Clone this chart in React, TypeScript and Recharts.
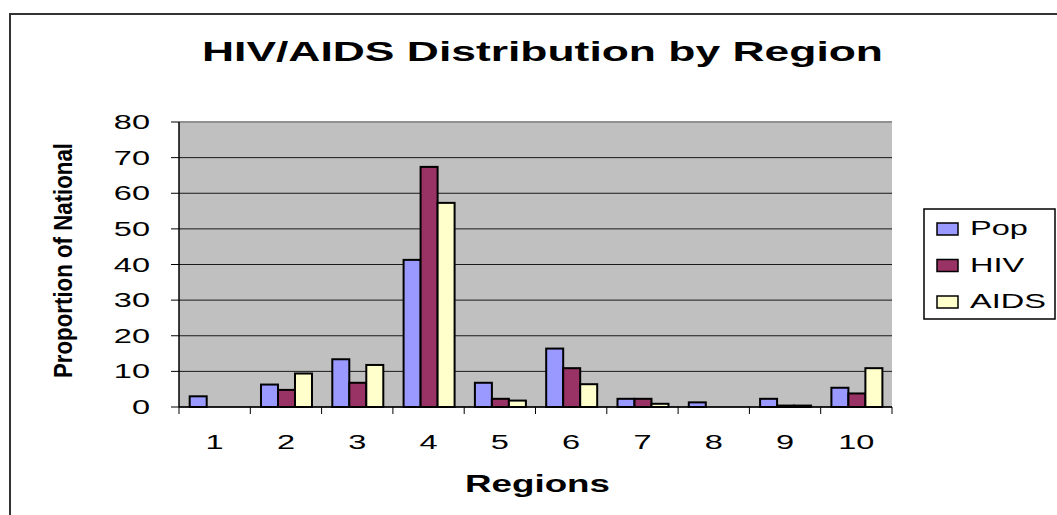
import React from "react";
import {
  BarChart,
  Bar,
  XAxis,
  YAxis,
  CartesianGrid,
  ReferenceLine,
  Legend,
} from "recharts";

const REGIONS = ["1", "2", "3", "4", "5", "6", "7", "8", "9", "10"];
const POP = [3, 6.3, 13.4, 41.3, 6.8, 16.4, 2.3, 1.3, 2.3, 5.4];
const HIV = [0, 4.8, 6.8, 67.4, 2.3, 10.9, 2.3, 0, 0.4, 3.8];
const AIDS = [0, 9.4, 11.8, 57.3, 1.8, 6.4, 0.9, 0, 0.4, 10.9];
const Y_TICKS = [0, 10, 20, 30, 40, 50, 60, 70, 80];

const SERIES = [
  { key: "pop", name: "Pop", color: "#9999FF" },
  { key: "hiv", name: "HIV", color: "#993366" },
  { key: "aids", name: "AIDS", color: "#FFFFCC" },
];

const data = REGIONS.map((region, i) => ({
  region,
  pop: POP[i],
  hiv: HIV[i],
  aids: AIDS[i],
}));

const FONT = "'Liberation Sans', Arial, sans-serif";
const W = 1057;
const H = 515;
const MARGIN = { top: 122, right: 165, bottom: 78, left: 100 };
const BAND = (W - MARGIN.left - 79 - MARGIN.right) / REGIONS.length;

// x ticks: label at the centre, tick mark at the category boundary
const XTick = (props: any) => {
  const { x, y, payload, index } = props;
  const half = payload && payload.offset ? payload.offset : BAND / 2;
  const isLast = index === REGIONS.length - 1;
  return (
    <g>
      <line x1={x - half} x2={x - half} y1={y - 7} y2={y} stroke="#000" />
      {isLast && (
        <line x1={x + half} x2={x + half} y1={y - 7} y2={y} stroke="#000" />
      )}
      <text
        transform={`translate(${x},${y + 35}) scale(1.55,1)`}
        textAnchor="middle"
        fontSize={21}
        fontFamily={FONT}
        fill="#000"
      >
        {payload.value}
      </text>
    </g>
  );
};

const YTick = (props: any) => {
  const { x, y, payload } = props;
  return (
    <text
      transform={`translate(${x},${y + 7}) scale(1.55,1)`}
      textAnchor="end"
      fontSize={21}
      fontFamily={FONT}
      fill="#000"
    >
      {payload.value}
    </text>
  );
};

// bar with a black outline
const OutlinedBar = (props: any) => {
  const { x, y, width, height, fill } = props;
  if (!height || height <= 0) return null;
  return (
    <rect
      x={x}
      y={y}
      width={width}
      height={height}
      fill={fill}
      stroke="#000"
      strokeWidth={2}
    />
  );
};

const LegendBox = ({ payload }: any) => {
  const items = payload || [];
  return (
    <svg width={134} height={112} style={{ display: "block" }}>
      <rect x={1} y={1} width={131} height={110} fill="#fff" stroke="#000" strokeWidth={1.5} />
      {SERIES.map((s, i) => {
        const entry = items.find((e: any) => e.dataKey === s.key);
        const top = 15 + i * 36.5;
        return (
          <g key={s.key}>
            <rect
              x={14}
              y={top}
              width={21}
              height={12}
              fill={s.color}
              stroke="#000"
              strokeWidth={1.5}
            />
            <text
              transform={`translate(47,${top + 12}) scale(1.55,1)`}
              fontSize={21}
              fontFamily={FONT}
              fill="#000"
            >
              {entry ? entry.value : s.name}
            </text>
          </g>
        );
      })}
    </svg>
  );
};

export default function App() {
  return (
    <div
      style={{
        position: "absolute",
        left: 0,
        top: 0,
        width: W,
        height: H,
        overflow: "hidden",
        background: "#fff",
      }}
    >
      {/* outer chart frame */}
      <div
        style={{
          position: "absolute",
          left: 9,
          top: 13,
          width: 1200,
          height: 700,
          border: "2px solid #333",
        }}
      />
      <div style={{ position: "absolute", left: 0, top: 0 }}>
        <BarChart
          width={W}
          height={H}
          data={data}
          margin={MARGIN}
          barCategoryGap="15%"
          barGap={0}
        >
          <CartesianGrid vertical={false} fill="#C0C0C0" stroke="#1a1a1a" />
          <XAxis
            dataKey="region"
            height={30}
            tickSize={7}
            tickMargin={0}
            tickLine={{ stroke: "none" }}
            axisLine={{ stroke: "#000", strokeWidth: 1.5 }}
            tick={<XTick />}
            interval={0}
          />
          <YAxis
            width={79}
            domain={[0, 80]}
            ticks={Y_TICKS}
            tickSize={8}
            tickMargin={21}
            tickLine={{ stroke: "#000" }}
            axisLine={{ stroke: "#000", strokeWidth: 1.5 }}
            tick={<YTick />}
            interval={0}
          />
          <YAxis
            yAxisId="r"
            orientation="right"
            width={0}
            domain={[0, 80]}
            tick={false}
            tickLine={false}
            axisLine={{ stroke: "#808080", strokeWidth: 3 }}
          />
          <ReferenceLine y={80} stroke="#909090" strokeWidth={2} />
          {SERIES.map((s) => (
            <Bar
              key={s.key}
              dataKey={s.key}
              name={s.name}
              fill={s.color}
              stroke="#000"
              strokeWidth={2}
              shape={<OutlinedBar />}
              isAnimationActive={false}
            />
          ))}
          <Legend
            layout="vertical"
            align="center"
            verticalAlign="middle"
            content={(p: any) => <LegendBox payload={p.payload} />}
            wrapperStyle={{ left: 923, top: 208, width: 134, height: 112 }}
          />
        </BarChart>
      </div>
      {/* title and axis titles */}
      <svg
        width={W}
        height={H}
        style={{ position: "absolute", left: 0, top: 0, pointerEvents: "none" }}
      >
        <text
          x={202}
          y={61}
          fontSize={28}
          fontWeight="bold"
          fontFamily={FONT}
          textLength={681}
          lengthAdjust="spacingAndGlyphs"
        >
          HIV/AIDS Distribution by Region
        </text>
        <text
          x={465}
          y={492}
          fontSize={24}
          fontWeight="bold"
          fontFamily={FONT}
          textLength={145}
          lengthAdjust="spacingAndGlyphs"
        >
          Regions
        </text>
        <text
          transform="translate(72,260.5) rotate(-90)"
          textAnchor="middle"
          fontSize={26}
          fontWeight="bold"
          fontFamily={FONT}
          textLength={235}
          lengthAdjust="spacingAndGlyphs"
        >
          Proportion of National
        </text>
      </svg>
    </div>
  );
}
